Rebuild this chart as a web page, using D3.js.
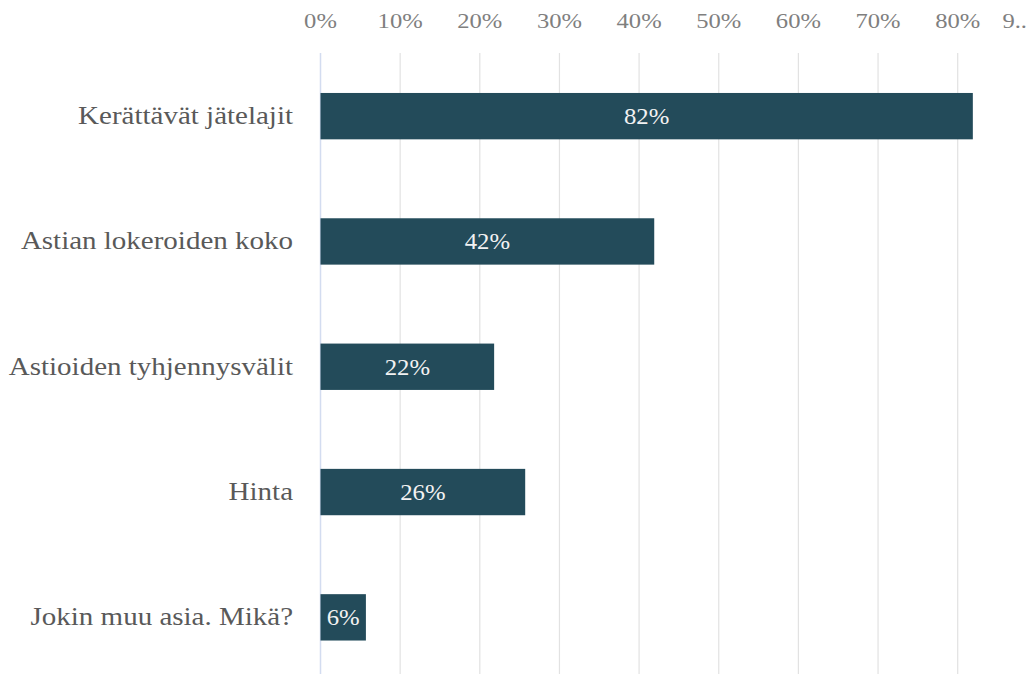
<!DOCTYPE html>
<html>
<head>
<meta charset="utf-8">
<script src="https://cdn.jsdelivr.net/npm/d3@7"></script>
<style>
  body { margin: 0; background: #fff; }
  text { font-family: "Liberation Serif", "Times New Roman", serif; }
</style>
</head>
<body>
<div id="chart"></div>
<script>
var categories = ["Kerättävät jätelajit", "Astian lokeroiden koko", "Astioiden tyhjennysvälit", "Hinta", "Jokin muu asia. Mikä?"];
var values = [0.819, 0.419, 0.218, 0.257, 0.057];
var valueLabels = ["82%", "42%", "22%", "26%", "6%"];
var tickValues = [0, 0.1, 0.2, 0.3, 0.4, 0.5, 0.6, 0.7, 0.8, 0.9];
var tickLabels = ["0%", "10%", "20%", "30%", "40%", "50%", "60%", "70%", "80%", "9.."];

var width = 1029;
var height = 674;

var svg = d3.select("#chart")
    .append("svg")
    .attr("width", width)
    .attr("height", height);

var x = d3.scaleLinear()
    .domain([0, 1])
    .range([320.5, 320.5 + 796.5]);

var y = d3.scaleBand()
    .domain(categories)
    .range([53.5, 680])
    .paddingInner(0.63)
    .paddingOuter(0.315);

// grid lines
svg.append("g")
    .selectAll("line")
    .data(tickValues.slice(1, 9))
    .enter()
    .append("line")
    .attr("x1", function (d) { return x(d); })
    .attr("x2", function (d) { return x(d); })
    .attr("y1", 53)
    .attr("y2", height)
    .attr("stroke", "#e2e2e2")
    .attr("stroke-width", 1.2);

// zero line
svg.append("line")
    .attr("x1", x(0))
    .attr("x2", x(0))
    .attr("y1", 53)
    .attr("y2", height)
    .attr("stroke", "#d3dcf0")
    .attr("stroke-width", 1.5);

// top tick labels
svg.append("g")
    .selectAll("text")
    .data(tickValues)
    .enter()
    .append("text")
    .attr("transform", function (d, i) {
        var px = i == tickValues.length - 1 ? width - 2 : x(d);
        return "translate(" + px + ",28) scale(1.2,1)";
    })
    .attr("text-anchor", function (d, i) {
        return i == tickValues.length - 1 ? "end" : "middle";
    })
    .attr("fill", "#7f7f7f")
    .style("font-size", "20.5px")
    .text(function (d, i) { return tickLabels[i]; });

// bars
svg.append("g")
    .selectAll("rect")
    .data(values)
    .enter()
    .append("rect")
    .attr("x", x(0))
    .attr("y", function (d, i) { return y(categories[i]); })
    .attr("width", function (d) { return x(d) - x(0); })
    .attr("height", y.bandwidth())
    .attr("fill", "#234b5a");

// value labels
svg.append("g")
    .selectAll("text")
    .data(values)
    .enter()
    .append("text")
    .attr("transform", function (d, i) {
        var cx = (x(0) + x(d)) / 2;
        var cy = y(categories[i]) + y.bandwidth() / 2 + 8;
        return "translate(" + cx + "," + cy + ") scale(1.1,1)";
    })
    .attr("text-anchor", "middle")
    .attr("fill", "#f2f2f2")
    .style("font-size", "22.5px")
    .text(function (d, i) { return valueLabels[i]; });

// category labels
svg.append("g")
    .selectAll("text")
    .data(categories)
    .enter()
    .append("text")
    .attr("transform", function (d) {
        return "translate(293," + (y(d) + y.bandwidth() / 2 + 8) + ") scale(1.16,1)";
    })
    .attr("text-anchor", "end")
    .attr("fill", "#595959")
    .style("font-size", "25px")
    .text(function (d) { return d; });
</script>
</body>
</html>
